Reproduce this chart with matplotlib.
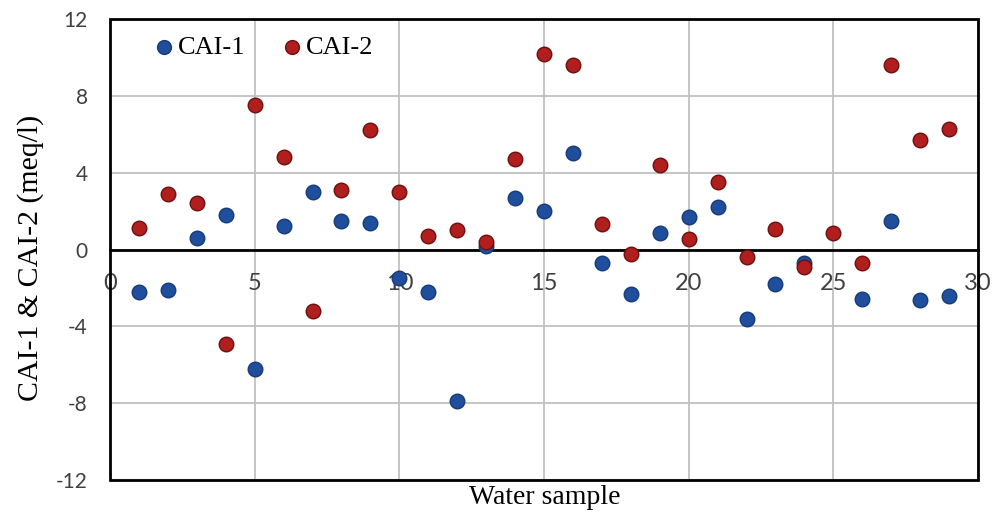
import numpy as np
import matplotlib
matplotlib.use("Agg")
import matplotlib.pyplot as plt
from matplotlib.patches import Rectangle

plt.rcParams["axes.unicode_minus"] = False

samples = list(range(1, 30))
cai1 = [-2.2, -2.1, 0.6, 1.8, -6.2, 1.2, 3.0, 1.5, 1.4, -1.5,
        -2.2, -7.9, 0.2, 2.7, 2.0, 5.0, -0.7, -2.3, 0.85, 1.7,
        2.2, -3.6, -1.8, -0.7, np.nan, -2.55, 1.5, -2.65, -2.4]
cai2 = [1.1, 2.9, 2.4, -4.9, 7.5, 4.8, -3.2, 3.1, 6.2, 3.0,
        0.7, 1.0, 0.4, 4.7, 10.2, 9.6, 1.35, -0.25, 4.4, 0.55,
        3.5, -0.4, 1.05, -0.9, 0.85, -0.7, 9.6, 5.7, 6.3]
xticks = [0, 5, 10, 15, 20, 25, 30]
yticks = [-12, -8, -4, 0, 4, 8, 12]

fig = plt.figure(figsize=(9.92, 5.14), dpi=100)
ax = fig.add_axes([0.1109, 0.0661, 0.875, 0.8969])

ax.scatter(samples, cai1, s=110, color="#1f4e9c", edgecolors="#173a78",
           linewidths=1.0, zorder=3, label="CAI-1")
ax.scatter(samples, cai2, s=110, color="#b01e1e", edgecolors="#6e1010",
           linewidths=1.0, zorder=4, label="CAI-2")

ax.set_xlim(0, 30)
ax.set_ylim(-12, 12)
ax.set_xticks(xticks)
ax.set_yticks(yticks)
ax.grid(True, color="#c0c0c0", linewidth=1.3, zorder=0)
ax.set_axisbelow(True)

for s in ["top", "right", "left"]:
    ax.spines[s].set_visible(False)
ax.spines["bottom"].set_position(("data", 0))
ax.spines["bottom"].set_linewidth(2.0)
ax.spines["bottom"].set_color("black")
ax.add_patch(Rectangle((0, 0), 1, 1, transform=ax.transAxes, fill=False,
                       edgecolor="black", linewidth=2.0, zorder=5, clip_on=False))

ax.tick_params(axis="x", length=0, pad=17, labelsize=17, labelcolor="#404040")
ax.tick_params(axis="y", length=0, pad=16, labelsize=15, labelcolor="#404040")
for lab in ax.get_xticklabels() + ax.get_yticklabels():
    lab.set_fontfamily("Lato")

fig.text(0.549, 0.033, "Water sample", ha="center", va="center",
         fontsize=20, family="Liberation Serif")
fig.text(0.031, 0.498, "CAI-1 & CAI-2 (meq/l)", ha="center", va="center",
         rotation=90, fontsize=21.5, family="Liberation Serif")

leg = ax.legend(loc="upper left", bbox_to_anchor=(0.021, 1.015), ncol=2,
                frameon=False, prop={"family": "Liberation Serif", "size": 19},
                handlelength=0.9, handletextpad=0.08, columnspacing=1.3,
                scatterpoints=1, markerscale=0.95)

fig.savefig("out.png", dpi=100)
